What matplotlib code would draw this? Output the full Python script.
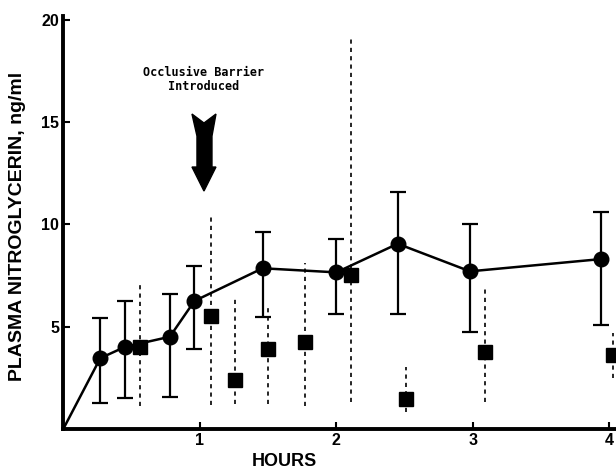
import matplotlib
matplotlib.use('Agg')
import matplotlib.pyplot as plt
from matplotlib.patches import Polygon
from matplotlib.transforms import ScaledTranslation

# occluded series (circles, solid line, capped SD bars)
hours_a = [0.0, 0.27, 0.45, 0.78, 0.96, 1.46, 2.0, 2.45, 2.98, 3.94]
conc_a = [0.0, 3.45, 4.0, 4.5, 6.25, 7.85, 7.65, 9.05, 7.7, 8.3]
low_a = [0.0, 1.25, 1.5, 1.55, 3.9, 5.45, 5.6, 5.6, 4.75, 5.05]
high_a = [0.0, 5.4, 6.25, 6.6, 7.95, 9.65, 9.3, 11.6, 10.0, 10.6]

# second series (squares, dashed SD bars)
hours_b = [0.56, 1.08, 1.26, 1.5, 1.77, 2.11, 2.51, 3.09, 4.03]
conc_b = [4.0, 5.5, 2.4, 3.9, 4.25, 7.5, 1.45, 3.75, 3.6]
low_b = [1.1, 1.15, 1.2, 1.2, 1.1, 1.3, 0.8, 1.3, 2.5]
high_b = [7.15, 10.5, 6.45, 6.05, 8.1, 19.2, 3.0, 6.9, 4.7]

x_ticks = [1, 2, 3, 4]
y_ticks = [5, 10, 15, 20]

fig = plt.figure(figsize=(6.16, 4.69), dpi=100)
ax = fig.add_axes([0.103, 0.086, 0.897, 0.88])

# circles
err_a = [[c - l for c, l in zip(conc_a, low_a)], [h - c for c, h in zip(conc_a, high_a)]]
ax.plot(hours_a, conc_a, color='black', lw=1.8, zorder=3)
ax.errorbar(hours_a[1:], conc_a[1:], yerr=[err_a[0][1:], err_a[1][1:]],
            fmt='o', color='black', ms=10.5, elinewidth=1.6, capsize=5.5,
            capthick=1.6, zorder=4)

# squares with dashed bars
err_b = [[c - l for c, l in zip(conc_b, low_b)], [h - c for c, h in zip(conc_b, high_b)]]
eb = ax.errorbar(hours_b, conc_b, yerr=err_b, fmt='s', color='black', ms=9.5,
                 elinewidth=1.2, capsize=0, zorder=4, clip_on=False)
for coll in eb[2]:
    coll.set_linestyle((0, (2.5, 2.5)))

ax.set_xlim(0, 4.05)
ax.set_ylim(0, 20.2)
ax.set_xticks(x_ticks)
ax.set_yticks(y_ticks)
ax.tick_params(direction='in', length=5, width=1.5, labelsize=11.5, pad=3)
for lab in ax.get_xticklabels() + ax.get_yticklabels():
    lab.set_fontweight('bold')
    lab.set_family('Liberation Sans')
for s in ['top', 'right']:
    ax.spines[s].set_visible(False)
for s in ['left', 'bottom']:
    ax.spines[s].set_linewidth(2.8)

ax.set_ylabel('PLASMA NITROGLYCERIN, ng/ml', fontsize=14, fontweight='bold',
              family='Liberation Sans')
ax.yaxis.set_label_coords(-0.068, 0.49)
ax.set_xlabel('HOURS', fontsize=13, fontweight='bold', family='Liberation Sans')
ax.xaxis.set_label_coords(0.4, -0.06)

# annotation arrow
ax.text(1.03, 17.1, 'Occlusive Barrier\nIntroduced', ha='center', va='center',
        fontsize=8.5, fontweight='bold', family='DejaVu Sans Mono', linespacing=1.1)
shape_px = [(-12, 0), (0, -9), (12, 0), (8, -22), (8, -53), (12, -53), (0, -77),
            (-12, -53), (-7, -53), (-7, -22)]
shape = [(px / 100.0, py / 100.0) for px, py in shape_px]
tr = fig.dpi_scale_trans + ScaledTranslation(1.03, 15.4, ax.transData)
ax.add_patch(Polygon(shape, closed=True, color='black', transform=tr, clip_on=False))

fig.savefig('out.png', dpi=100)
